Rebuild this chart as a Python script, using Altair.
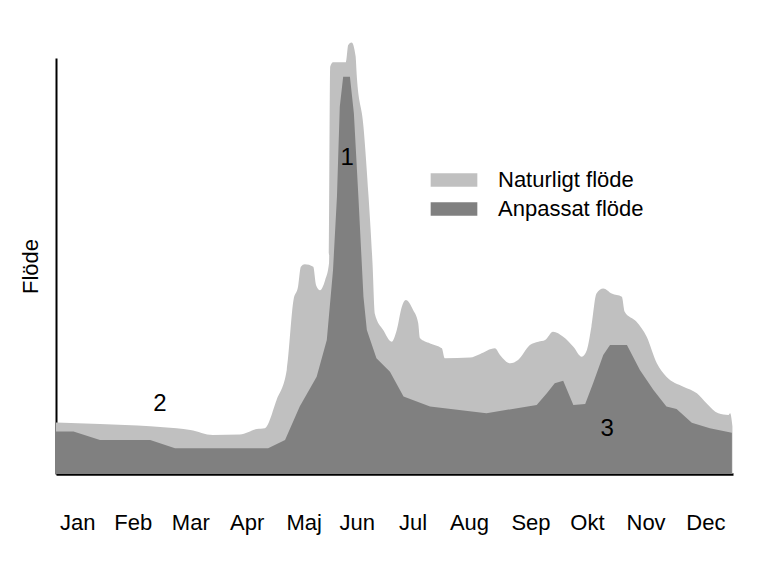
import altair as alt
import pandas as pd

months = ["Jan", "Feb", "Mar", "Apr", "Maj", "Jun", "Jul", "Aug", "Sep", "Okt", "Nov", "Dec"]
month_label_pos = [0.376, 1.36, 2.38, 3.38, 4.39, 5.33, 6.32, 7.32, 8.41, 9.41, 10.45, 11.51]
series_names = ["Naturligt flöde", "Anpassat flöde"]
series_colors = ["#c0c0c0", "#808080"]

# Natural flow (light grey), x in months from 1 Jan
nat_x = [0, 0.78, 1.67, 2.14, 2.38, 2.78, 3.26, 3.56, 3.70, 3.91,
         4.09, 4.21, 4.29, 4.34, 4.41, 4.56, 4.61, 4.68, 4.77, 4.84,
         4.86, 4.91, 5.14, 5.18, 5.24, 5.31, 5.33, 5.45, 5.54, 5.61,
         5.65, 5.80, 5.95, 6.04, 6.13, 6.20, 6.33, 6.42, 6.45, 6.63,
         6.84, 6.89, 7.34, 7.51, 7.78, 7.87, 8.05, 8.19, 8.40, 8.55,
         8.67, 8.81, 8.99, 9.17, 9.32, 9.41, 9.49, 9.58, 9.70, 9.85,
         10.03, 10.08, 10.29, 10.47, 10.65, 10.82, 11.12, 11.36, 11.53, 11.74,
         11.92, 11.95, 11.99]
nat_y = [12.4, 12.0, 11.5, 11.0, 10.6, 9.4, 9.5, 10.8, 11.0, 17.8,
         25.0, 41.8, 45.0, 49.8, 50.4, 49.8, 45.4, 44.2, 46.6, 50.7,
         97.9, 99.0, 99.0, 103.1, 103.7, 100.5, 96.0, 83.5, 66.7, 50.7,
         38.6, 34.6, 31.8, 34.6, 40.2, 41.8, 39.4, 36.3, 32.7, 31.4,
         30.2, 27.8, 28.0, 28.8, 30.2, 28.6, 26.6, 27.4, 31.0, 31.8,
         32.2, 34.2, 33.0, 30.6, 28.2, 29.8, 35.4, 43.4, 44.6, 43.4,
         42.6, 39.0, 36.6, 33.0, 26.6, 23.4, 21.0, 19.4, 17.0, 14.6,
         14.2, 14.6, 11.4]

# Adjusted flow (dark grey)
adj_x = [0, 0.31, 0.78, 1.67, 2.11, 3.76, 4.06, 4.32, 4.62, 4.80,
         4.91, 4.98, 5.03, 5.09, 5.21, 5.28, 5.36, 5.45, 5.51, 5.68,
         5.92, 6.16, 6.63, 7.63, 8.52, 8.70, 8.84, 8.99, 9.17, 9.38,
         9.52, 9.70, 9.82, 10.12, 10.35, 10.59, 10.82, 11.00, 11.27, 11.59,
         11.98]
adj_y = [10.2, 10.2, 8.2, 8.2, 6.2, 6.2, 8.2, 16.2, 23.4, 32.2,
         49.0, 66.7, 88.3, 95.5, 95.5, 86.7, 66.7, 42.6, 34.6, 27.8,
         24.6, 18.6, 16.2, 14.6, 16.6, 19.4, 21.8, 22.4, 16.6, 16.8,
         21.8, 28.6, 31.0, 31.0, 25.0, 20.2, 16.2, 15.6, 12.3, 11.0,
         9.9]

note_text = ["1", "2", "3"]
note_x = [5.16, 1.84, 9.77]
note_y = [75.9, 16.9, 10.8]

nat = pd.DataFrame({"m": nat_x, "flow": nat_y, "serie": series_names[0]})
adj = pd.DataFrame({"m": adj_x, "flow": adj_y, "serie": series_names[1]})
notes = pd.DataFrame({"m": note_x, "flow": note_y, "txt": note_text})

FONT = "Liberation Sans"
label_expr = "[" + ",".join(f"'{m}'" for m in months) + "][floor(datum.value)]"

x_enc = alt.X(
    "m:Q",
    title="",
    scale=alt.Scale(domain=[0, 12], nice=False, zero=False),
    axis=alt.Axis(
        values=month_label_pos, labelExpr=label_expr, ticks=False, grid=False,
        domainColor="black", domainWidth=2.5, labelFontSize=22, labelColor="black",
        labelFont=FONT, labelPadding=38, labelFlush=False, labelOverlap=False,
        labelBound=False,
    ),
)
y_enc = alt.Y(
    "flow:Q",
    scale=alt.Scale(domain=[0, 100], nice=False, zero=True),
    axis=alt.Axis(
        title="Flöde", labels=False, ticks=False, grid=False,
        domainColor="black", domainWidth=2, titleFontSize=22,
        titleFontWeight="normal", titleColor="black", titleFont=FONT,
        titlePadding=14,
    ),
)
color_enc = alt.Color(
    "serie:N",
    scale=alt.Scale(domain=series_names, range=series_colors),
    legend=alt.Legend(
        title=None, orient="none", legendX=387, legendY=111,
        symbolType="M-3,-0.88H3V0.88H-3Z", symbolSize=242,
        symbolStrokeWidth=0, symbolOpacity=1,
        labelFontSize=22, labelFont=FONT, labelColor="black",
        labelOffset=33, rowPadding=7, padding=0,
    ),
)

light = alt.Chart(nat).mark_area(interpolate="monotone", opacity=1).encode(
    x=x_enc, y=y_enc, color=color_enc
)
dark = alt.Chart(adj).mark_area(interpolate="linear", opacity=1).encode(
    x=x_enc, y=y_enc, color=color_enc
)
text = alt.Chart(notes).mark_text(
    fontSize=24, font=FONT, color="black", align="center", baseline="middle"
).encode(x="m:Q", y="flow:Q", text="txt:N")

chart = (
    alt.layer(light, dark, text)
    .properties(
        width=677, height=416,
        autosize=alt.AutoSizeParams(type="none"),
        padding={"left": 48, "top": 50, "right": 29, "bottom": 89},
    )
    .configure(font=FONT)
    .configure_view(stroke="transparent")
)

chart.save("out.html", embed_options={"renderer": "svg", "actions": False})
